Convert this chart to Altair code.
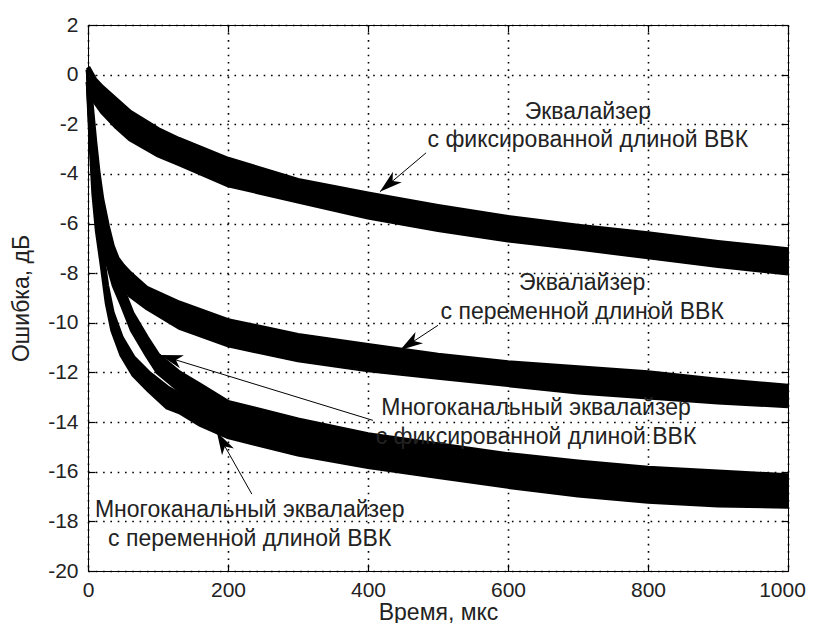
import math
import altair as alt
import pandas as pd

# ---------------- data ----------------
X_TICKS = [0, 200, 400, 600, 800, 1000]
Y_TICKS = [-20, -18, -16, -14, -12, -10, -8, -6, -4, -2, 0, 2]

# Curve 1: equalizer with fixed length (upper / lower edge of the noisy band)
c1_x = [0, 10, 20, 40, 60, 100, 130, 200, 300, 400, 500, 600, 700, 800, 900, 1000]
c1_hi = [0.3, -0.2, -0.5, -1.0, -1.5, -2.2, -2.6, -3.4, -4.25, -4.8, -5.3, -5.75, -6.1, -6.4, -6.75, -7.05]
c1_lo = [-0.3, -1.1, -1.5, -2.1, -2.6, -3.25, -3.6, -4.45, -5.1, -5.75, -6.25, -6.67, -7.0, -7.35, -7.7, -8.0]

# Curve 2: equalizer with variable length
c2_x = [0, 5, 10, 15, 20, 28, 35, 42, 50, 60, 84, 131, 200, 300, 400, 500, 600, 700, 800, 900, 1000]
c2_hi = [0.2, -1.2, -2.7, -4.0, -5.0, -6.1, -6.9, -7.4, -7.7, -8.0, -8.6, -9.2, -9.9, -10.5, -10.9, -11.3, -11.6, -11.8, -12.0, -12.3, -12.55]
c2_lo = [-0.3, -1.8, -3.3, -4.6, -5.6, -6.7, -7.5, -8.1, -8.5, -8.9, -9.4, -10.2, -10.9, -11.5, -11.9, -12.2, -12.5, -12.8, -13.0, -13.2, -13.35]

# Curve 3: multichannel equalizer with fixed length
c3_x = [0, 4, 8, 13, 20, 28, 37, 49, 63, 84, 100, 130, 160, 200, 300, 400, 500, 600, 700, 800, 900, 1000]
c3_hi = [0.2, -1.7, -3.5, -4.9, -6.0, -7.0, -7.9, -8.6, -9.6, -10.6, -11.3, -12.0, -12.5, -13.2, -13.9, -14.5, -14.9, -15.3, -15.6, -15.85, -16.0, -16.15]
c3_lo = [-0.3, -2.3, -4.1, -5.5, -6.6, -7.6, -8.5, -9.3, -10.3, -11.3, -12.0, -12.7, -13.2, -13.9, -14.6, -15.2, -15.6, -16.0, -16.3, -16.55, -16.7, -16.85]

# Curve 4: multichannel equalizer with variable length
c4_x = [0, 4, 8, 13, 20, 27, 35, 48, 65, 86, 113, 131, 160, 200, 300, 400, 500, 600, 700, 800, 900, 1000]
c4_hi = [0.2, -2.2, -4.2, -5.7, -7.1, -8.5, -9.6, -10.6, -11.4, -12.0, -12.6, -12.9, -13.3, -13.7, -14.3, -14.8, -15.2, -15.6, -15.95, -16.2, -16.35, -16.5]
c4_lo = [-0.3, -2.8, -4.8, -6.3, -7.7, -9.2, -10.3, -11.3, -12.1, -12.7, -13.4, -13.6, -14.1, -14.6, -15.3, -15.8, -16.2, -16.6, -16.95, -17.2, -17.35, -17.4]

# Annotation texts (centre positions in data units)
txt_lines = ["Эквалайзер", "с фиксированной длиной ВВК",
             "Эквалайзер", "с переменной длиной ВВК",
             "Многоканальный эквалайзер", "с фиксированной длиной ВВК",
             "Многоканальный эквалайзер", "с переменной длиной ВВК"]
txt_x = [714, 714, 706, 706, 640, 640, 231, 231]
txt_y = [-1.5, -2.64, -8.4, -9.57, -13.45, -14.6, -17.56, -18.7]

# Arrows: tail -> head (data units)
arr_tx = [483, 500, 407, 234]
arr_ty = [-3.15, -10.1, -13.93, -16.9]
arr_hx = [417, 446, 103, 184]
arr_hy = [-4.72, -11.1, -11.3, -14.4]

# ---------------- build tables ----------------
W, H = 700, 546
XMIN, XMAX, YMIN, YMAX = 0, 1000, -20, 2
FONT = "Liberation Sans"

curves = [("c1", c1_x, c1_hi, c1_lo), ("c2", c2_x, c2_hi, c2_lo),
          ("c3", c3_x, c3_hi, c3_lo), ("c4", c4_x, c4_hi, c4_lo)]
band_rows, edge_rows = [], []
for name, xs, his, los in curves:
    for x, hi, lo in zip(xs, his, los):
        band_rows.append({"curve": name, "x": x, "hi": hi, "lo": lo})
        edge_rows.append({"key": name + "_hi", "x": x, "y": hi})
        edge_rows.append({"key": name + "_lo", "x": x, "y": lo})
bands = pd.DataFrame(band_rows)
edges = pd.DataFrame(edge_rows)

texts = pd.DataFrame({"t": txt_lines, "x": txt_x, "y": txt_y})

sx = W / (XMAX - XMIN)
sy = H / (YMAX - YMIN)
angles = []
for tx, ty, hx, hy in zip(arr_tx, arr_ty, arr_hx, arr_hy):
    dx = (hx - tx) * sx
    dy = -(hy - ty) * sy
    angles.append(math.degrees(math.atan2(dx, -dy)) % 360)
arrows = pd.DataFrame({"tx": arr_tx, "ty": arr_ty, "hx": arr_hx, "hy": arr_hy, "ang": angles})

xscale = alt.Scale(domain=[XMIN, XMAX], nice=False, zero=False)
yscale = alt.Scale(domain=[YMIN, YMAX], nice=False, zero=False)

grid_kw = dict(grid=True, gridColor="#000000", gridDash=[1.6, 5.7], gridWidth=1.6, gridOpacity=1)
lab_kw = dict(labelFont=FONT, labelFontSize=21, labelColor="#222222",
              titleFont=FONT, titleFontSize=23, titleFontWeight="normal", titleColor="#222222")

axA_x = alt.Axis(values=X_TICKS, labelExpr="'' + datum.value", ticks=False, tickSize=0,
                 domain=False, labelPadding=8,
                 labelOffset={"condition": {"test": "datum.value == 1000", "value": -6}, "value": 0},
                 title="Время, мкс", titleX=W / 2, titleY=48, titleAlign="center",
                 titleBaseline="alphabetic", labelFlush=False, **grid_kw, **lab_kw)
axA_y = alt.Axis(values=Y_TICKS, labelExpr="'' + datum.value", ticks=False, tickSize=0,
                 domain=False, labelPadding=10,
                 title="Ошибка, дБ", titleX=-67, titleY=H / 2, titleAngle=-90,
                 titleAlign="center", titleBaseline="middle", labelFlush=False,
                 **grid_kw, **lab_kw)
tick_kw = dict(ticks=True, tickSize=7, tickColor="#000000", tickWidth=1.2, labels=False,
               domain=False, grid=False, title=None, offset=-7)
axB_x = alt.Axis(values=X_TICKS, orient="bottom", **tick_kw)
axB_y = alt.Axis(values=Y_TICKS, orient="left", **tick_kw)
axC_x = alt.Axis(values=X_TICKS, orient="top", **tick_kw)
axC_y = alt.Axis(values=Y_TICKS, orient="right", **tick_kw)

band_layer = alt.Chart(bands).mark_area(color="#000000", opacity=1).encode(
    x=alt.X("x:Q", scale=xscale, axis=axA_x),
    y=alt.Y("hi:Q", scale=yscale, axis=axA_y, stack=None),
    y2="lo:Q",
    detail="curve:N",
)

edge_layer = alt.Chart(edges).mark_line(color="#000000", strokeWidth=4.5).encode(
    x=alt.X("x:Q", scale=xscale, axis=axB_x),
    y=alt.Y("y:Q", scale=yscale, axis=axB_y),
    detail="key:N",
)

arrow_layer = alt.Chart(arrows).mark_rule(color="#000000", strokeWidth=1).encode(
    x=alt.X("tx:Q", scale=xscale, axis=axC_x),
    y=alt.Y("ty:Q", scale=yscale, axis=axC_y),
    x2="hx:Q",
    y2="hy:Q",
)

head_path = "M0,0 L0.6,2 L0,1.45 L-0.6,2 Z"
head_layer = alt.Chart(arrows).mark_point(
    shape=head_path, filled=True, size=520, color="#000000", opacity=1, strokeWidth=0
).encode(
    x=alt.X("hx:Q", scale=xscale, axis=None),
    y=alt.Y("hy:Q", scale=yscale, axis=None),
    angle=alt.Angle("ang:Q", scale=None),
)

text_layer = alt.Chart(texts).mark_text(
    font=FONT, fontSize=23, color="#222222", align="center", baseline="middle"
).encode(
    x=alt.X("x:Q", scale=xscale, axis=None),
    y=alt.Y("y:Q", scale=yscale, axis=None),
    text="t:N",
)

chart = alt.layer(band_layer, edge_layer, arrow_layer, head_layer, text_layer).resolve_axis(
    x="independent", y="independent"
).properties(
    width=W, height=H,
    autosize=alt.AutoSizeParams(type="none"),
    padding={"left": 80, "top": 17, "right": 18, "bottom": 52},
    background="white",
).configure_view(stroke="#000000", strokeWidth=1)

chart.save("out.html", embed_options={"renderer": "svg", "actions": False})
